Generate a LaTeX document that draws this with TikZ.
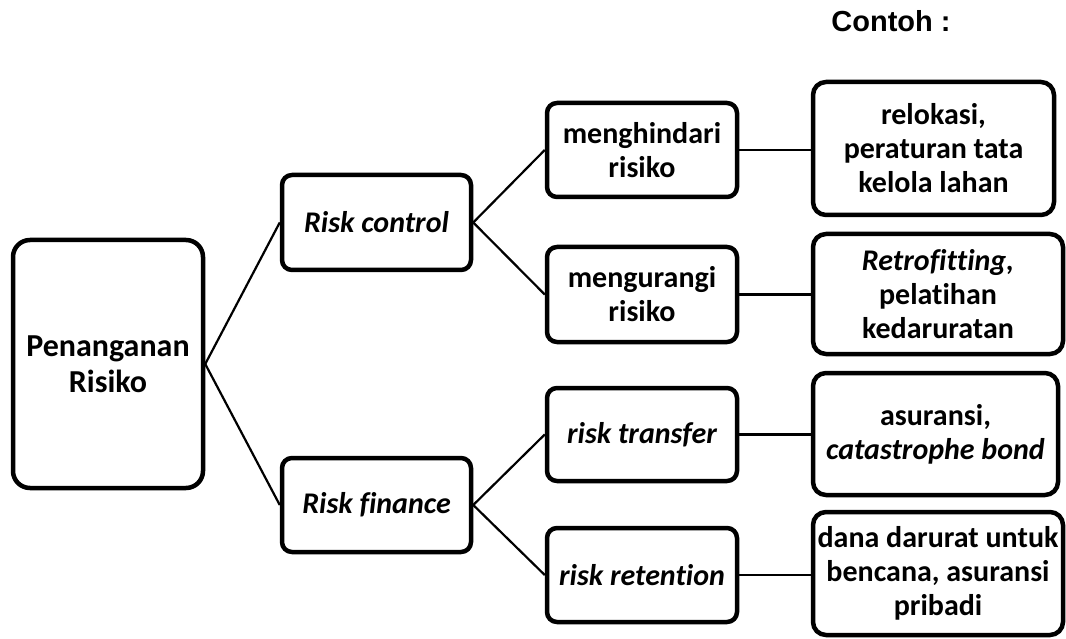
\documentclass[tikz,border=0pt]{standalone}
\usepackage{fontspec}
\setmainfont{Carlito}[Ligatures=NoCommon]
\newfontfamily\headfont{Liberation Sans}
\begin{document}
\begin{tikzpicture}[x=1pt,y=-1pt,
  box/.style={draw=black, line width=4.5pt, rounded corners=10pt, rectangle,
    inner sep=0pt, align=center, font=\fontsize{30}{34}\selectfont\bfseries},
  wide/.style={box, rounded corners=13pt},
  root/.style={box, rounded corners=17pt, font=\fontsize{32}{36}\selectfont\bfseries},
  link/.style={draw=black, line width=2.2pt}]
\useasboundingbox (0,0) rectangle (1066,639);

% root
\node[root, minimum width=190pt, minimum height=248pt] (pr) at (108,364) {Penanganan\\Risiko};

% second level
\node[box, minimum width=189pt, minimum height=95pt] (rc) at (376.5,222.5) {\itshape Risk control};
\node[box, minimum width=189pt, minimum height=94pt] (rf) at (376.5,505) {\itshape Risk finance};

% third level
\node[box, minimum width=190pt, minimum height=94pt] (mh) at (642,150) {menghindari\\risiko};
\node[box, minimum width=190pt, minimum height=95pt] (mg) at (642,294.5) {mengurangi\\risiko};
\node[box, minimum width=190pt, minimum height=93pt] (rt) at (642,434.5) {\itshape risk transfer};
\node[box, minimum width=190pt, minimum height=94pt] (rr) at (642,575) {\itshape risk retention};

% examples
\node[wide, minimum width=241pt, minimum height=133pt] (e1) at (933.5,148.5) {relokasi,\\peraturan tata\\kelola lahan};
\node[wide, minimum width=250pt, minimum height=120pt] (e2) at (938,294) {\textit{Retrofitting,}\\pelatihan\\kedaruratan};
\node[wide, minimum width=245pt, minimum height=122pt] (e3) at (935.5,434) {asuransi,\\\textit{catastrophe bond}};
\node[wide, minimum width=250pt, minimum height=123pt] (e4) at (938,573.5) {dana darurat untuk\\bencana, asuransi\\pribadi};

% heading
\node[anchor=base, inner sep=0pt, font=\headfont\fontsize{29}{32}\selectfont\bfseries] (head) at (891,32) {Contoh :};

% connectors
\draw[link] (pr.east) -- (rc.west);
\draw[link] (pr.east) -- (rf.west);
\draw[link] (rc.east) -- (mh.west);
\draw[link] (rc.east) -- (mg.west);
\draw[link] (rf.east) -- (rt.west);
\draw[link] (rf.east) -- (rr.west);
\draw[link] (mh.east) -- (e1.west |- mh.east);
\draw[link] (mg.east) -- (e2.west |- mg.east);
\draw[link] (rt.east) -- (e3.west |- rt.east);
\draw[link] (rr.east) -- (e4.west |- rr.east);
\end{tikzpicture}
\end{document}
